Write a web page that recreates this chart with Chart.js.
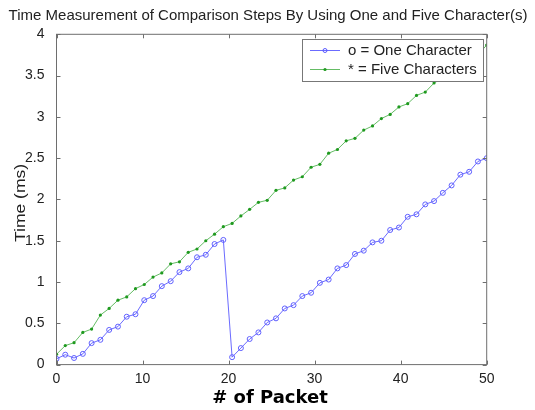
<!DOCTYPE html>
<html>
<head>
<meta charset="utf-8">
<script src="https://cdn.jsdelivr.net/npm/chart.js@4"></script>
<style>
  html, body { margin: 0; padding: 0; background: #fff; }
</style>
</head>
<body>
<canvas id="timeChart" width="535" height="410"></canvas>
<script>
// packet positions (50 samples spread over 0..50)
const packets = [0, 1.02, 2.04, 3.06, 4.08, 5.1, 6.12, 7.14, 8.16, 9.18,
  10.2, 11.22, 12.24, 13.27, 14.29, 15.31, 16.33, 17.35, 18.37, 19.39,
  20.41, 21.43, 22.45, 23.47, 24.49, 25.51, 26.53, 27.55, 28.57, 29.59,
  30.61, 31.63, 32.65, 33.67, 34.69, 35.71, 36.73, 37.76, 38.78, 39.8,
  40.82, 41.84, 42.86, 43.88, 44.9, 45.92, 46.94, 47.96, 48.98, 50];

const oneChar = [0.07, 0.12, 0.08, 0.13, 0.26, 0.3, 0.42, 0.46, 0.58, 0.61,
  0.78, 0.83, 0.95, 1.01, 1.12, 1.165, 1.3, 1.33, 1.46, 1.51,
  0.09, 0.2, 0.31, 0.39, 0.51, 0.56, 0.68, 0.72, 0.83, 0.87,
  0.99, 1.03, 1.165, 1.205, 1.34, 1.38, 1.48, 1.5, 1.63, 1.66,
  1.79, 1.82, 1.94, 1.98, 2.08, 2.17, 2.3, 2.335, 2.46, 2.5];

const fiveChar = [0.125, 0.23, 0.265, 0.39, 0.43, 0.6, 0.68, 0.78, 0.82, 0.92,
  0.97, 1.06, 1.11, 1.22, 1.245, 1.36, 1.4, 1.5, 1.58, 1.67,
  1.71, 1.8, 1.88, 1.965, 1.99, 2.11, 2.14, 2.235, 2.275, 2.39,
  2.425, 2.56, 2.605, 2.71, 2.74, 2.84, 2.89, 2.98, 3.03, 3.12,
  3.16, 3.26, 3.3, 3.41, 3.47, 3.55, 3.6, 3.7, 3.75, 3.87];

const xTicks = [0, 10, 20, 30, 40, 50];
const yTicks = [0, 0.5, 1, 1.5, 2, 2.5, 3, 3.5, 4];

const seriesNames = ["o = One Character", "* = Five Characters"];
const titleText = "Time Measurement of Comparison Steps By Using One and Five Character(s)";

const blueLine = "rgba(70,70,255,0.8)";
const greenLine = "rgba(50,165,50,0.75)";
const axisColor = "#6e6e6e";
const textColor = "#222";
const sans = "'Liberation Sans', Arial, sans-serif";

// MATLAB-like box, inward ticks, titles and an opaque legend
const matlabFrame = {
  id: "matlabFrame",
  afterDatasetsDraw(chart) {
    const { ctx, chartArea: a, scales } = chart;
    ctx.save();
    ctx.strokeStyle = axisColor;
    ctx.lineWidth = 1;
    ctx.strokeRect(a.left, a.top, a.right - a.left, a.bottom - a.top);
    ctx.beginPath();
    xTicks.forEach((v) => {
      const px = Math.round(scales.x.getPixelForValue(v)) + 0.5;
      ctx.moveTo(px, a.bottom); ctx.lineTo(px, a.bottom - 4);
      ctx.moveTo(px, a.top); ctx.lineTo(px, a.top + 4);
    });
    yTicks.forEach((v) => {
      const py = Math.round(scales.y.getPixelForValue(v)) + 0.5;
      ctx.moveTo(a.left, py); ctx.lineTo(a.left + 4, py);
      ctx.moveTo(a.right, py); ctx.lineTo(a.right - 4, py);
    });
    ctx.stroke();

    // legend box
    const lx = 302, ly = 39, lw = 181, lh = 42;
    ctx.fillStyle = "#fff";
    ctx.fillRect(lx, ly, lw, lh);
    ctx.strokeStyle = "#777";
    ctx.strokeRect(lx + 0.5, ly + 0.5, lw, lh);
    const rows = [
      { y: ly + 11, color: blueLine, dot: "circle" },
      { y: ly + 30, color: greenLine, dot: "dot" },
    ];
    rows.forEach((r, i) => {
      ctx.strokeStyle = r.color;
      ctx.beginPath();
      ctx.moveTo(lx + 8, r.y + 0.5);
      ctx.lineTo(lx + 38, r.y + 0.5);
      ctx.stroke();
      ctx.beginPath();
      if (r.dot === "circle") {
        ctx.strokeStyle = "#5a5aff";
        ctx.arc(lx + 23, r.y + 0.5, 2, 0, Math.PI * 2);
        ctx.stroke();
      } else {
        ctx.fillStyle = "#1f9a1f";
        ctx.arc(lx + 23, r.y + 0.5, 1.6, 0, Math.PI * 2);
        ctx.fill();
      }
      ctx.fillStyle = textColor;
      ctx.font = "15px " + sans;
      ctx.textAlign = "left";
      ctx.textBaseline = "middle";
      ctx.fillText(seriesNames[i], lx + 46, r.y + 1);
    });

    // chart title
    ctx.fillStyle = textColor;
    ctx.font = "15px " + sans;
    ctx.textAlign = "center";
    ctx.textBaseline = "middle";
    ctx.fillText(titleText, 268, 16);

    // x axis title
    ctx.font = "bold 18px 'DejaVu Sans', sans-serif";
    ctx.fillStyle = "#000";
    ctx.fillText("# of Packet", 270, 398);

    // y axis title
    ctx.save();
    ctx.translate(21, 203);
    ctx.rotate(-Math.PI / 2);
    ctx.font = "14px " + sans;
    ctx.fillStyle = textColor;
    ctx.scale(1.25, 1);
    ctx.fillText("Time (ms)", 0, 0);
    ctx.restore();
    ctx.restore();
  },
};

const container = document.getElementById("timeChart");

new Chart(container, {
  type: "line",
  data: {
    datasets: [
      {
        label: seriesNames[0],
        data: packets.map((p, i) => ({ x: p, y: oneChar[i] })),
        borderColor: blueLine,
        borderWidth: 1,
        pointStyle: "circle",
        pointRadius: 2.5,
        pointBorderWidth: 1,
        pointBorderColor: "#6060ff",
        pointBackgroundColor: "rgba(0,0,0,0)",
        tension: 0,
      },
      {
        label: seriesNames[1],
        data: packets.map((p, i) => ({ x: p, y: fiveChar[i] })),
        borderColor: greenLine,
        borderWidth: 1,
        pointStyle: "circle",
        pointRadius: 1.6,
        pointBorderWidth: 0,
        pointBackgroundColor: "#1f9a1f",
        tension: 0,
      },
    ],
  },
  options: {
    responsive: false,
    animation: false,
    events: [],
    layout: {
      padding: { top: 34.3, right: 48.3, left: 0, bottom: 0 },
    },
    plugins: {
      legend: { display: false },
      title: { display: false },
      tooltip: { enabled: false },
    },
    scales: {
      x: {
        type: "linear",
        min: 0,
        max: 50,
        afterBuildTicks: (scale) => {
          scale.ticks = xTicks.map((v) => ({ value: v }));
        },
        afterFit: (scale) => {
          scale.height = 45.4;
        },
        grid: { display: false },
        border: { display: false },
        ticks: {
          color: textColor,
          padding: -2,
          maxRotation: 0,
          callback: (v) => String(v),
          font: { family: sans, size: 14 },
        },
      },
      y: {
        type: "linear",
        min: 0,
        max: 4,
        afterBuildTicks: (scale) => {
          scale.ticks = yTicks.map((v) => ({ value: v }));
        },
        afterFit: (scale) => {
          scale.width = 56.5;
        },
        grid: { display: false },
        border: { display: false },
        ticks: {
          color: textColor,
          padding: 4,
          callback: (v) => String(v),
          font: { family: sans, size: 14 },
        },
      },
    },
  },
  plugins: [matlabFrame],
});
</script>
</body>
</html>
